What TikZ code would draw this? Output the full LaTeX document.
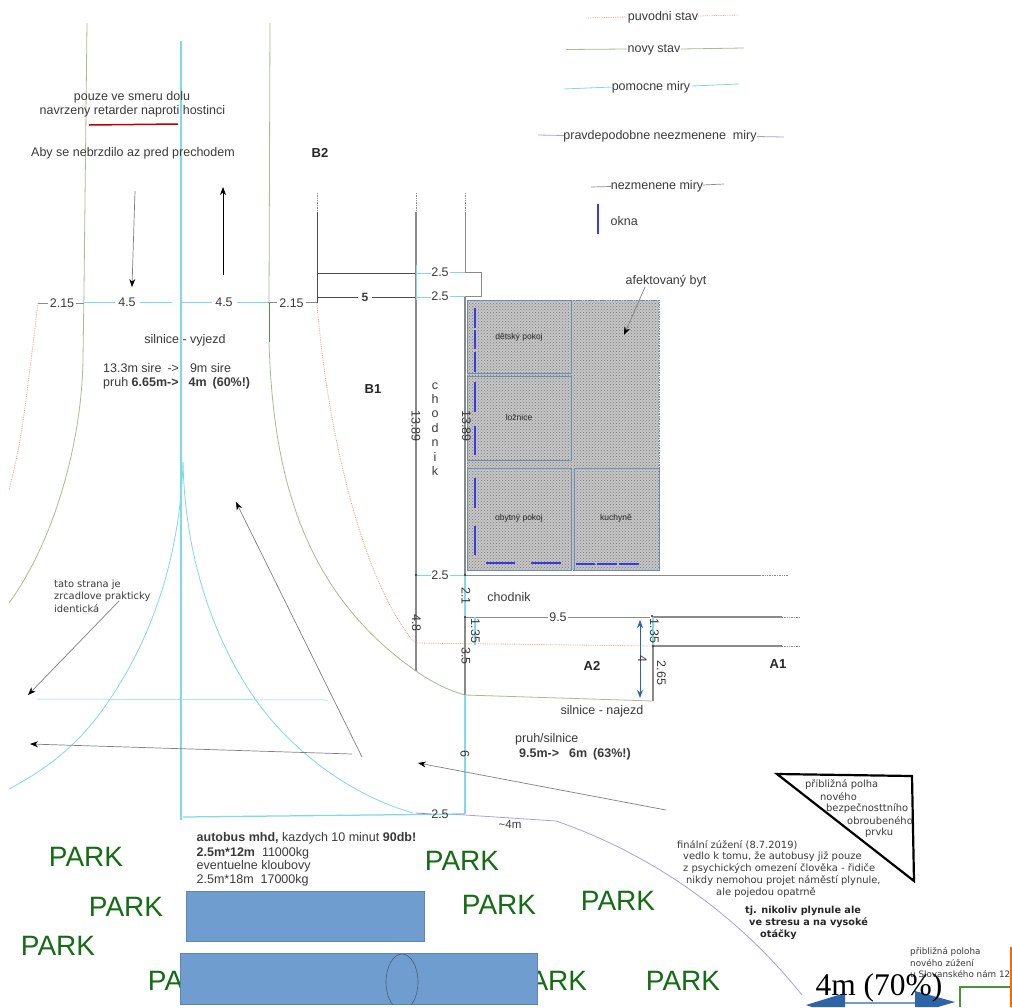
\documentclass[tikz,border=0pt]{standalone}
\usepackage{fontspec}
\setmainfont{Liberation Sans}
\newfontfamily\dejavu{DejaVu Sans}
\newfontfamily\tms{Liberation Serif}
\usetikzlibrary{arrows.meta,patterns}
\definecolor{tx}{HTML}{3A3A3A}
\definecolor{origc}{HTML}{F0A080}
\definecolor{newc}{HTML}{A9BC90}
\definecolor{auxc}{HTML}{7EDAE8}
\definecolor{probc}{HTML}{A6A2DE}
\definecolor{samec}{HTML}{8A8A8A}
\definecolor{winc}{HTML}{3A3AE0}
\definecolor{roomb}{HTML}{6C8DB2}
\definecolor{parkc}{HTML}{146C14}
\definecolor{busc}{HTML}{709DCF}
\definecolor{arrowb}{HTML}{2F65A8}
\tikzset{
  txt/.style={inner sep=0pt,text=tx,font=\fontsize{12.5}{14.4}\selectfont},
  dimv/.style={txt,rotate=-90},
  bld/.style={txt,font=\fontsize{13}{15}\selectfont\bfseries,text=black!85},
  room/.style={inner sep=0pt,text=black!85,font=\fontsize{8.5}{10}\selectfont},
  dj/.style={inner sep=0pt,anchor=west,text=tx,font=\dejavu\fontsize{9.9}{11}\selectfont},
  djb/.style={dj,font=\dejavu\bfseries\fontsize{9.7}{11}\selectfont,text=black!85},
  djs/.style={inner sep=0pt,anchor=west,text=tx,font=\dejavu\fontsize{8.8}{10}\selectfont},
  parktxt/.style={inner sep=0pt,text=parkc,font=\fontsize{28}{30}\selectfont},
  orig/.style={origc,line width=.8pt,densely dotted},
  newl/.style={newc,line width=.8pt},
  aux/.style={auxc,line width=.8pt},
  auxb/.style={auxc,line width=1.25pt},
  prob/.style={probc,line width=.8pt},
  same/.style={samec,line width=1.1pt},
  fine/.style={samec,line width=.7pt},
  dots/.style={samec,line width=.7pt,densely dotted},
  arr/.style={black!50,line width=.7pt,-{Stealth[length=8pt,width=6pt,color=black]}},
  win/.style={winc,line width=1.3pt},
  roomr/.style={draw=roomb,line width=.8pt},
  pt/.style={circle,fill=black!80,inner sep=0pt,minimum size=2.4pt}
}
\begin{document}
\begin{tikzpicture}[x=1pt,y=-1pt]
\path[use as bounding box,fill=white] (0,0) rectangle (1012,1007);
\clip (0,0) rectangle (1012,1007);

% road edges, new state
\draw[newl] (87,23) -- (84,290) -- (83,359) .. controls (82,440) and (55,540) .. (9,603);
\draw[newl] (270,23) -- (269,303);
\draw[newc!75!green!70!black,line width=1pt] (269,303) -- (269,342);
\draw[newl] (269,342) .. controls (273,470) and (300,590) .. (416,671) .. controls (433,683) and (450,691) .. (465,695) -- (653,701);
% road edges, original state
\draw[orig] plot[smooth,tension=.6] coordinates {(38,303) (22,428) (9,490)};
\draw[orig] (317,303) .. controls (326,420) and (360,580) .. (415,643) -- (653,646);

% centre line and construction curves
\draw[auxb] (181,41) -- (181,820);
\draw[auxb] (183,817) -- (465,814);
\draw[aux] (183,462) .. controls (185,560) and (215,640) .. (253,696) .. controls (290,750) and (350,795) .. (413,813);
\draw[aux] (183,462) .. controls (180,560) and (150,640) .. (110,699) .. controls (80,745) and (45,770) .. (9,789);
\draw[aux,line width=.5pt] (37,699) -- (328,700);

% dimension line at the top of the road
\draw[fine] (38,303) -- (48,303) (76,303) -- (84,303);
\draw[aux] (84,302) -- (115,302) (140,302) -- (172,302);
\draw[aux] (180,302) -- (212,302) (237,302) -- (268,302);
\draw[fine] (268,302) -- (277,302) (306,302) -- (317,302);

% sidewalk lines
\draw[dots] (317,193) -- (317,212);
\draw[fine,black!70] (317,212) -- (317,303);
\draw[fine,black!70] (317,273) -- (416,273) (317,297) -- (358,297) (372,297) -- (416,297);
\draw[dots] (416,193) -- (416,212);
\draw[same] (416,212) -- (416,671);
\draw[dots] (465,193) -- (465,212);
\draw[fine] (465,212) -- (465,272);
\draw[same] (465,297) -- (465,575);
\draw[same] (465,617) -- (465,695);
\draw[aux] (416,265) -- (416,300);
\draw[aux] (416,273) -- (431,273) (450,272) -- (465,272);
\draw[aux] (416,297) -- (431,297) (450,296) -- (465,296);
\draw[fine,line width=.5pt] (465,272) -- (481,272) -- (481,296) -- (465,296);
\draw[aux] (416,575) -- (431,575) (450,575) -- (465,575);
\draw[auxb] (465,575) -- (465,617);
\draw[auxb] (465,695) -- (465,814);

% building
\fill[black!22] (467,300) rectangle (659,570);
\fill[pattern=crosshatch dots,pattern color=black!55] (467,300) rectangle (659,570);
\draw[roomb,line width=.7pt,densely dotted] (467,300) rectangle (659,570);
\draw[roomr] (467,300) rectangle (571,373);
\draw[roomr] (467,376) rectangle (571,460);
\draw[roomr] (467,468) rectangle (571,570);
\draw[roomr] (574,468) rectangle (659,570);
\foreach \a/\b in {308/328,330/349,352/372,382/412,426/455,478/508,526/555}
  \draw[win] (475,\a) -- (475,\b);
\draw[win] (486,563) -- (515,563) (531,563) -- (561,563);
\draw[win] (576,564) -- (595,564) (597,564) -- (617,564) (619,564) -- (639,564);

% lower street
\draw[samec,line width=.8pt] (465,575) -- (760,575);
\draw[dots] (760,575) -- (788,575);
\draw[fine] (465,617) -- (548,617) (568,617) -- (650,617);
\draw[same] (652,617) -- (782,617);
\draw[dots] (782,617) -- (800,617);
\draw[same] (653,646) -- (782,646);
\draw[dots] (782,646) -- (800,646);
\draw[same] (653,646) -- (653,701);
\draw[auxb] (475,617) -- (475,645);
\draw[auxb] (653,617) -- (653,646);
\draw[fine] (416,813) -- (431,814);
\draw[prob] (452,814) -- (465,815) -- (556,821) .. controls (640,850) and (730,905) .. (802,995);

\node[pt] (p1) at (416,575) {};
\node[pt] (p2) at (465,575) {};
\node[pt] (p3) at (465,617) {};
\node[pt] (p4) at (652,616) {};
\node[pt] (p5) at (653,646) {};

% red retarder mark
\draw[red!75!black,line width=1.5pt] (89,125) -- (178,124);

% arrows
\coordinate (a1s) at (135,191); \coordinate (a1e) at (132,287);
\coordinate (a2s) at (223,275); \coordinate (a2e) at (223,187);
\coordinate (a3s) at (119,601); \coordinate (a3e) at (28,695);
\coordinate (a4s) at (352,754); \coordinate (a4e) at (30,744);
\coordinate (a5s) at (362,757); \coordinate (a5e) at (236,502);
\coordinate (a6s) at (666,810); \coordinate (a6e) at (418,763);
\coordinate (a7s) at (645,287); \coordinate (a7e) at (624,335);
\coordinate (a8s) at (640,620); \coordinate (a8e) at (640,698);
\draw[arr] (a1s) -- (a1e);
\draw[arr,black] (a2s) -- (a2e);
\draw[arr] (a3s) -- (a3e);
\draw[arr] (a4s) -- (a4e);
\draw[arr] (a5s) -- (a5e);
\draw[arr] (a6s) -- (a6e);
\draw[arr] (a7s) -- (a7e);
\draw[arrowb,line width=.9pt,{Stealth[length=8pt,width=6pt]}-{Stealth[length=8pt,width=6pt]}] (a8s) -- (a8e);

% legend
\draw[orig] (588,18) -- (627,17) (698,16) -- (739,15);
\draw[newl] (566,49.5) -- (627,49) (681,49) -- (744,48);
\draw[aux] (564,89) -- (612,87) (692,86) -- (739,84);
\draw[prob] (538,135) -- (565,135.5) (757,136.5) -- (784,137);
\draw[fine] (591,187) -- (611,186.5) (703,185) -- (724,184);
\draw[winc,line width=1.5pt] (598,204) -- (598,234);
\node[txt] (lg1) at (663,17) {puvodni stav};
\node[txt] (lg2) at (654,50) {novy stav};
\node[txt] (lg3) at (651,87) {pomocne miry};
\node[txt] (lg4) at (660,136) {pravdepodobne neezmenene\ \ miry};
\node[txt] (lg5) at (657,186) {nezmenene miry};
\node[txt,anchor=west] (lg6) at (610.5,221) {okna};

% top left texts
\node[txt] (t1) at (132,97) {pouze ve smeru dolu};
\node[txt] (t2) at (132.5,111) {navrzeny retarder naproti hostinci};
\node[txt] (t3) at (133,153) {Aby se nebrzdilo az pred prechodem};
\node[bld] (b2) at (320,153) {B2};
\node[bld] (b1) at (373,389) {B1};
\node[bld] (a2) at (592,666) {A2};
\node[bld] (a1) at (778,664) {A1};
\node[txt] (d1) at (62,303) {2.15};
\node[txt] (d2) at (127,302) {4.5};
\node[txt] (d3) at (224,302) {4.5};
\node[txt] (d4) at (291.5,303) {2.15};
\node[txt,font=\fontsize{12}{14}\selectfont\bfseries] (d5) at (365,297) {5};
\node[txt] (d6) at (440,272) {2.5};
\node[txt] (d7) at (440,296) {2.5};
\node[txt] (d8) at (440,575) {2.5};
\node[txt] (d9) at (558,617) {9.5};
\node[txt] (d10) at (440,814) {2.5};
\node[txt,font=\fontsize{11.5}{12}\selectfont] (d11) at (510,825) {\char126 4m};
\node[dimv] (v1) at (416,426) {13.89};
\node[dimv] (v2) at (466.5,426) {13.89};
\node[dimv] (v3) at (466,596) {2.1};
\node[dimv] (v4) at (475.5,631) {1.35};
\node[dimv] (v5) at (654.5,631) {1.35};
\node[dimv] (v6) at (466,656) {3.5};
\node[dimv] (v7) at (416.5,623) {4.8};
\node[dimv] (v8) at (661.5,673) {2.65};
\node[dimv] (v9) at (465,754) {6};
\node[dimv] (v10) at (642.5,659) {4};
\node[txt] (s1) at (185,340) {silnice - vyjezd};
\node[txt,anchor=west] (s2) at (103,368) {13.3m sire\hspace{6pt}->\hspace{11pt}9m sire};
\node[txt,anchor=west] (s3) at (103,383) {pruh \textbf{6.65m->\hspace{10pt}4m\hspace{6pt}(60\%!)}};
\node[txt,align=center] (s4) at (435,429) {c\\h\\o\\d\\n\\i\\k};
\node[txt] (s5) at (509,597) {chodnik};
\node[txt] (s6) at (602,711) {silnice - najezd};
\node[txt,anchor=west] (s7) at (515,739) {pruh/silnice};
\node[txt,anchor=west,font=\fontsize{12.5}{14}\selectfont\bfseries] (s8) at (519,754) {9.5m->\hspace{10pt}6m\hspace{6pt}(63\%!)};
\node[txt] (s9) at (666,281) {afektovaný byt};
\node[room] (r1) at (519,337) {dětský pokoj};
\node[room] (r2) at (519,417) {ložnice};
\node[room] (r3) at (519,518) {obytný pokoj};
\node[room] (r4) at (616,518) {kuchyně};
\node[dj] (z1) at (54,585) {tato strana je};
\node[dj] (z2) at (54,597) {zrcadlove prakticky};
\node[dj] (z3) at (54,609) {identická};

% PARK labels
\node[parktxt] (k1) at (86,857) {PARK};
\node[parktxt] (k2) at (126,907) {PARK};
\node[parktxt] (k3) at (58,946) {PARK};
\node[parktxt] (k4) at (462,861) {PARK};
\node[parktxt] (k5) at (499,905) {PARK};
\node[parktxt] (k6) at (618,901) {PARK};
\node[parktxt] (k7) at (683,981) {PARK};
\node[parktxt] (k8) at (185,981) {PARK};
\node[parktxt] (k9) at (550,981) {PARK};

% buses
\node[txt,anchor=west] (u1) at (196.5,838) {\textbf{autobus mhd,} kazdych 10 minut \textbf{90db!}};
\node[txt,anchor=west] (u2) at (196.5,853) {\textbf{2.5m*12m}\ \ 11000kg};
\node[txt,anchor=west] (u3) at (196.5,866) {eventuelne kloubovy};
\node[txt,anchor=west] (u4) at (196.5,880) {2.5m*18m\ \ 17000kg};
\draw[fill=busc,draw=busc!85!black,line width=.6pt] (186,891) rectangle (424,941);
\draw[fill=busc,draw=busc!85!black,line width=.6pt] (180,953) rectangle (537,1004);
\begin{scope}
\clip (180,953) rectangle (537,1004);
\draw[busc!60!black,line width=.6pt] (402,982) ellipse [x radius=16,y radius=28];
\end{scope}

% safety element
\draw[black,line width=2.2pt,line join=miter] (777,774) -- (912,776) -- (914,881) -- cycle;
\node[dj] (e1) at (805,785) {přibližná polha};
\node[dj] (e2) at (820,797) {nového};
\node[dj] (e3) at (826,809) {bezpečnosttního};
\node[dj] (e4) at (847,821) {obroubeného};
\node[dj] (e5) at (865,833) {prvku};
\node[dj] (f1) at (677,845) {finální zúžení (8.7.2019)};
\node[dj] (f2) at (683,857) {vedlo k tomu, že autobusy již pouze};
\node[dj] (f3) at (683,869) {z psychických omezení člověka - řidiče};
\node[dj] (f4) at (686,881) {nikdy nemohou projet náměstí plynule,};
\node[dj] (f5) at (716,893) {ale pojedou opatrně};
\node[djb] (f6) at (745,911) {tj. nikoliv plynule ale};
\node[djb] (f7) at (749,923) {ve stresu a na vysoké};
\node[djb] (f8) at (760,935) {otáčky};

% bottom right corner
\fill[arrowb] (806,1005) -- (845,993) -- (845,1007) -- (812,1007) -- cycle;
\fill[arrowb] (915,991) -- (955,1002) -- (938,1007) -- (915,1007) -- cycle;
\draw[busc,line width=1.2pt] (845,1003) -- (915,1003);
\node[djs] (g1) at (910,952) {přibližná poloha};
\node[djs] (g2) at (910,963) {nového zúžení};
\node[djs] (g3) at (910,974) {u Slovanského nám 12};
\draw[newc!60!green!70!black,line width=1.5pt] (960,1007) -- (960,987) -- (1012,987);
\draw[orange!80!red,line width=2pt] (1011,947) -- (1011,1007);
\node[inner sep=0pt,text=black,font=\tms\fontsize{31.5}{36}\selectfont] (h1) at (879,988) {4m (70\%)};
\end{tikzpicture}
\end{document}
